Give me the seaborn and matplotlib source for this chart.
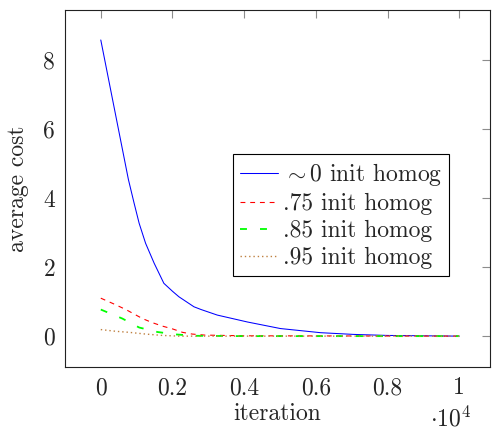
import numpy as np
import pandas as pd
import matplotlib
matplotlib.use('Agg')
import matplotlib.pyplot as plt
import seaborn as sns
from matplotlib.ticker import FixedLocator, FuncFormatter

sns.set_style('white')
plt.rcParams['font.family'] = ['cmr10', 'DejaVu Serif']
plt.rcParams['mathtext.fontset'] = 'cm'
plt.rcParams['axes.formatter.use_mathtext'] = True
plt.rcParams['axes.unicode_minus'] = False
plt.rcParams['lines.scale_dashes'] = False

# iterations and average cost per run
iter_0 = [0, 400, 770, 930, 1070, 1250, 1490, 1760, 2000, 2180, 2600, 2800,
          3250, 4090, 5010, 6130, 7050, 8000, 9000, 10000]
cost_0 = [8.58, 6.48, 4.54, 3.85, 3.27, 2.69, 2.11, 1.53, 1.30, 1.14, 0.85, 0.77,
          0.61, 0.41, 0.22, 0.10, 0.05, 0.02, 0.01, 0.0]

iter_75 = [0, 370, 700, 930, 1160, 1440, 1720, 2000, 2280, 2550, 2900, 4000, 10000]
cost_75 = [1.1, 0.93, 0.77, 0.64, 0.51, 0.39, 0.29, 0.21, 0.11, 0.06, 0.03, 0.01, 0.0]

iter_85 = [0, 600, 1070, 1580, 2090, 2600, 4000, 10000]
cost_85 = [0.77, 0.51, 0.25, 0.12, 0.05, 0.01, 0.0, 0.0]

iter_95 = [0, 420, 790, 1250, 1720, 2200, 10000]
cost_95 = [0.19, 0.14, 0.11, 0.06, 0.02, 0.0, 0.0]

labels = [r'$\sim$0 init homog', '.75 init homog', '.85 init homog', '.95 init homog']

series = [
    (iter_0, cost_0, '#0000ff', '-', 0.75),
    (iter_75, cost_75, '#ff0000', (0, (3.5, 3.5)), 0.8),
    (iter_85, cost_85, '#00ff00', (0, (5, 9.4)), 1.3),
    (iter_95, cost_95, '#bf8040', (0, (1.0, 2.1)), 1.0),
]

fs = 17

fig = plt.figure(figsize=(4.92, 4.32), dpi=100)
ax = fig.add_axes([0.132, 0.150, 0.864, 0.827])

for (xs, ys, col, ls, lw), lab in zip(series, labels):
    df = pd.DataFrame({'iteration': np.array(xs) / 1e4, 'cost': ys})
    sns.lineplot(data=df, x='iteration', y='cost', ax=ax, color=col,
                 linestyle=ls, linewidth=lw, label=lab, legend=False)

ax.set_xlim(-0.1, 1.086)
ax.set_ylim(-0.9, 9.45)
ax.xaxis.set_major_locator(FixedLocator([0, 0.2, 0.4, 0.6, 0.8, 1.0]))
ax.yaxis.set_major_locator(FixedLocator([0, 2, 4, 6, 8]))
ax.xaxis.set_major_formatter(FuncFormatter(lambda v, p: '%g' % round(v, 2)))
ax.yaxis.set_major_formatter(FuncFormatter(lambda v, p: '%g' % v))
ax.tick_params(direction='in', length=6, width=0.8, color='0.55',
               top=True, right=True, labelsize=fs, pad=7)

for s in ax.spines.values():
    s.set_linewidth(0.8)
    s.set_color('#222222')

ax.set_xlabel('iteration', fontsize=fs, va='center')
ax.xaxis.set_label_coords(0.5, -0.132)
ax.set_ylabel('average cost', fontsize=fs, va='center')
ax.yaxis.set_label_coords(-0.111, 0.5)
ax.text(0.908, -0.166, r'$\cdot 10^4$', transform=ax.transAxes,
        fontsize=fs, ha='center', va='baseline')

leg = ax.legend(loc='center right', bbox_to_anchor=(0.904, 0.426),
                fontsize=fs, frameon=True, fancybox=False, framealpha=1,
                edgecolor='black', handlelength=1.6, handletextpad=0.2,
                labelspacing=0.2, borderpad=0.3, borderaxespad=0)
leg.get_frame().set_linewidth(0.8)

fig.savefig('out.png', dpi=100)
